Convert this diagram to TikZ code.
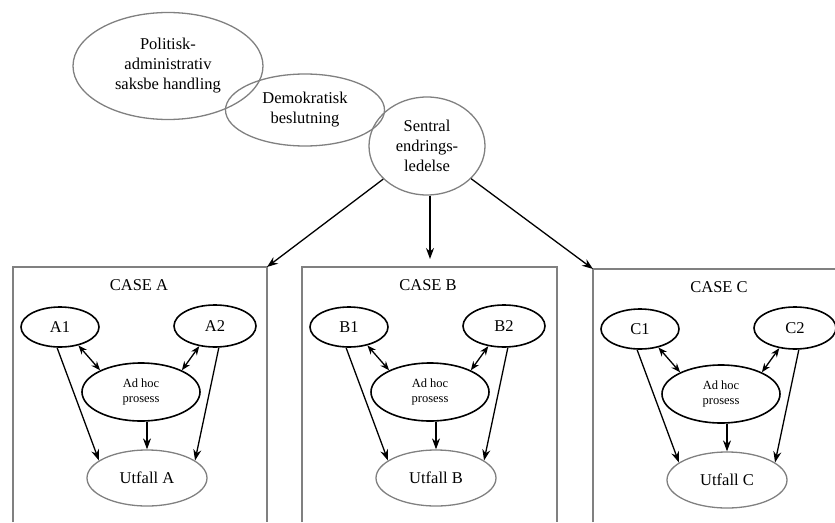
\documentclass[tikz,border=0pt]{standalone}
\usepackage{fontspec}
\setmainfont{Liberation Serif}
\usetikzlibrary{arrows.meta,shapes.geometric}

\definecolor{outlinegray}{RGB}{128,128,128}

\tikzset{
  bigoval/.style={ellipse, draw=outlinegray, line width=1.3pt, inner sep=0pt,
    align=center, font=\fontsize{16.5}{20}\selectfont},
  actoroval/.style={ellipse, draw=black, line width=1.6pt, inner sep=0pt,
    align=center, font=\fontsize{16.5}{20}\selectfont},
  processoval/.style={ellipse, draw=black, line width=1.6pt, inner sep=0pt,
    align=center, font=\fontsize{12.5}{14.5}\selectfont},
  outcomeoval/.style={ellipse, draw=outlinegray, line width=1.3pt, inner sep=0pt,
    align=center, font=\fontsize{16.5}{20}\selectfont},
  boxline/.style={draw=outlinegray, line width=1.3pt},
  casetitle/.style={inner sep=0pt, font=\fontsize{16.5}{20}\selectfont},
  flow/.style={draw=black, line width=1.3pt, -{Stealth[length=11pt,width=8pt]}},
  mutual/.style={draw=black, line width=1.3pt,
    {Stealth[length=9pt,width=7pt]}-{Stealth[length=9pt,width=7pt]}},
}

% One case panel: #1 letter, #2 left edge, #3 top edge, #4 right edge
\newcommand\casepanel[4]{%
  \coordinate (box#1nw) at (#2,#3);
  \coordinate (box#1ne) at (#4,#3);
  \draw[boxline] (#2,522) -- (box#1nw) -- (box#1ne) -- (#4,522);
  \begin{scope}[shift={(#2,#3)}]
    \node[casetitle] (#1title) at (126,18) {CASE #1};
    \node[actoroval, minimum width=78, minimum height=40] (#11) at (47,60) {#11};
    \node[actoroval, minimum width=82, minimum height=42] (#12) at (202,59) {#12};
    \node[processoval, minimum width=118, minimum height=58] (#1adhoc) at (128,125) {Ad hoc\\prosess};
    \node[outcomeoval, minimum width=120, minimum height=56] (#1utfall) at (134,211) {Utfall #1};
  \end{scope}
  \draw[mutual] (#11.-45) -- (#1adhoc.152);
  \draw[mutual] (#12.232) -- (#1adhoc.28);
  \draw[flow] (#11.-98) -- (#1utfall.160);
  \draw[flow] (#12.-80) -- (#1utfall.20);
  \draw[flow] (#1adhoc.south -| #1utfall.north) -- (#1utfall.north);
}

\begin{document}
\begin{tikzpicture}[x=1pt, y=-1pt]
  \useasboundingbox (0,0) rectangle (835,522);

  % upper chain of overlapping ovals
  \node[bigoval, minimum width=190, minimum height=107] (politisk) at (168,66)
    {Politisk-\\administrativ\\saksbe handling};
  \node[bigoval, minimum width=159, minimum height=72] (demokratisk) at (305,110)
    {Demokratisk\\beslutning};
  \node[bigoval, minimum width=116, minimum height=98] (sentral) at (427,146)
    {Sentral\\endrings-\\ledelse};

  % the three case panels
  \casepanel{A}{13}{267}{267}
  \casepanel{B}{302}{267}{557}
  \casepanel{C}{593}{269}{845}

  % central change management feeds each case
  \coordinate (Bentry) at (430,259);
  \draw[flow] (sentral) -- (boxAne);
  \draw[flow] (sentral.south -| Bentry) -- (Bentry);
  \draw[flow] (sentral) -- (boxCnw);
\end{tikzpicture}
\end{document}
